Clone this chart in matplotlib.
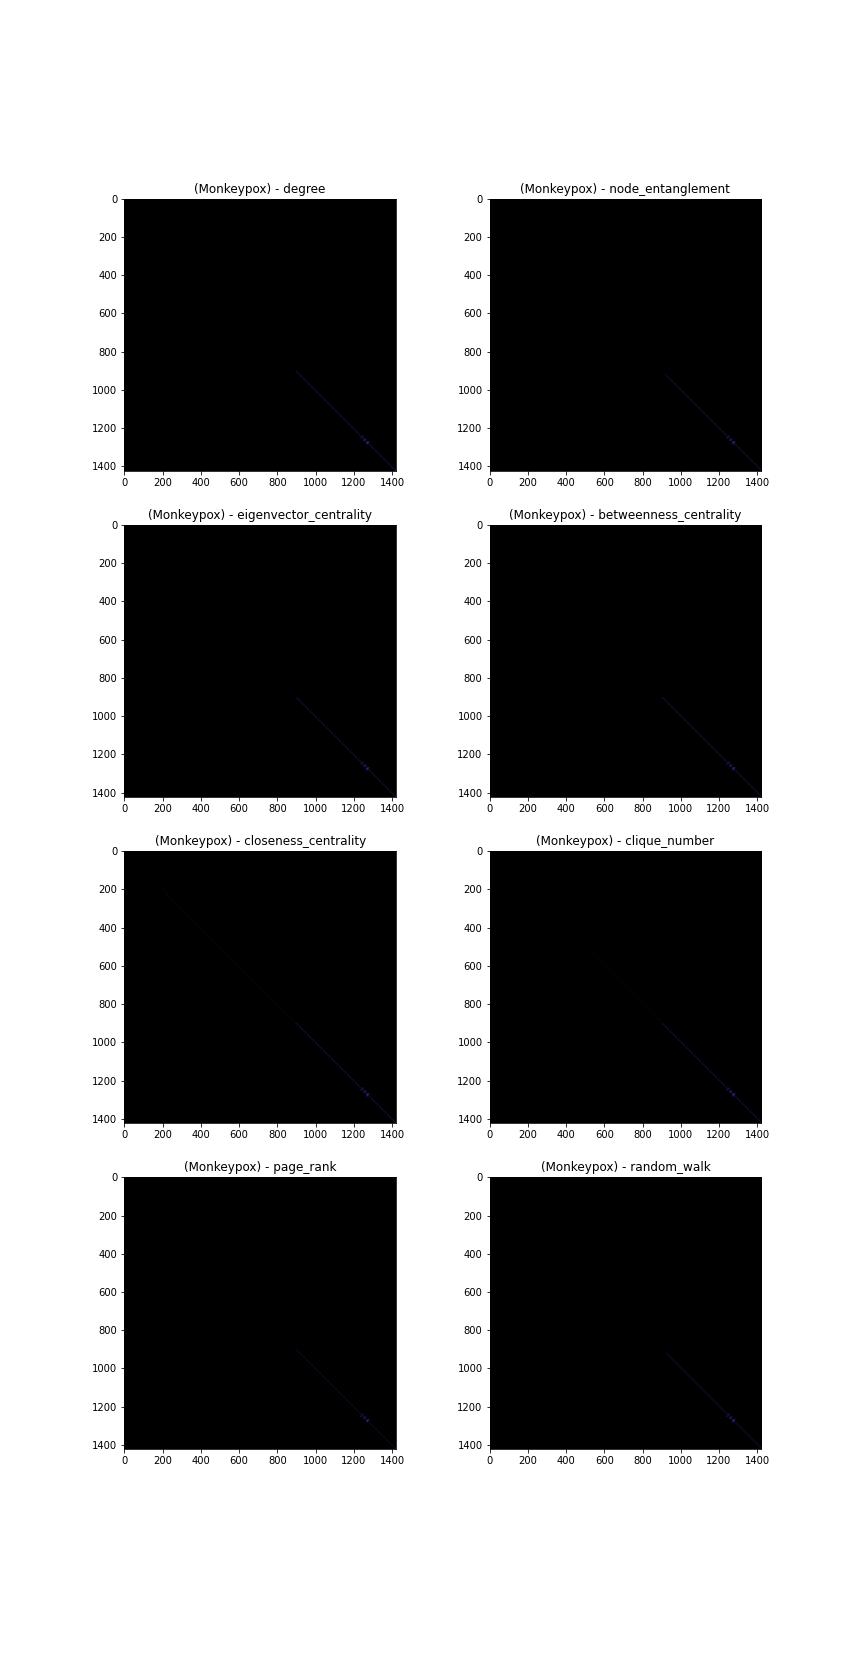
import numpy as np
import matplotlib
matplotlib.use("Agg")
import matplotlib.pyplot as plt

# ---- data ----
n_nodes = 1422
measures = ["degree", "node_entanglement", "eigenvector_centrality",
            "betweenness_centrality", "closeness_centrality", "clique_number",
            "page_rank", "random_walk"]
# diagonal: faint part starts at faint_start, stronger part at strong_start
faint_start = [200, 900, 880, 700, 200, 500, 880, 900]
strong_start = [900, 920, 900, 900, 900, 900, 900, 920]
faint_level = [0.04, 0.03, 0.03, 0.04, 0.05, 0.04, 0.03, 0.03]
strong_level = [0.16, 0.13, 0.14, 0.13, 0.15, 0.15, 0.10, 0.12]
# small brighter cluster near the lower right
cluster_rows = [1255, 1262, 1270, 1280, 1250]
cluster_cols = [1262, 1255, 1275, 1270, 1240]
cluster_level = [0.18, 0.15, 0.20, 0.15, 0.12]
band = 3


def build(i):
    m = np.zeros((n_nodes, n_nodes))
    idx = np.arange(n_nodes)
    for k in range(-band // 2 + 1, band // 2 + 1):
        rows = idx[(idx + k >= 0) & (idx + k < n_nodes)]
        cols = rows + k
        lvl = np.where(rows >= strong_start[i], strong_level[i],
                       np.where(rows >= faint_start[i], faint_level[i], 0.0))
        m[rows, cols] = lvl
    for r, c, v in zip(cluster_rows, cluster_cols, cluster_level):
        m[r - 3:r + 3, c - 3:c + 3] = v
        m[c - 3:c + 3, r - 3:r + 3] = v
    return m


fig, axes = plt.subplots(4, 2, figsize=(12, 23), dpi=72)
fig.subplots_adjust(bottom=0.125)
for i, ax in enumerate(axes.flat):
    ax.imshow(build(i), cmap="CMRmap", vmin=0, vmax=1)
    ax.set_title(f"(Monkeypox) - {measures[i]}")

fig.savefig("out.png", dpi=72)
